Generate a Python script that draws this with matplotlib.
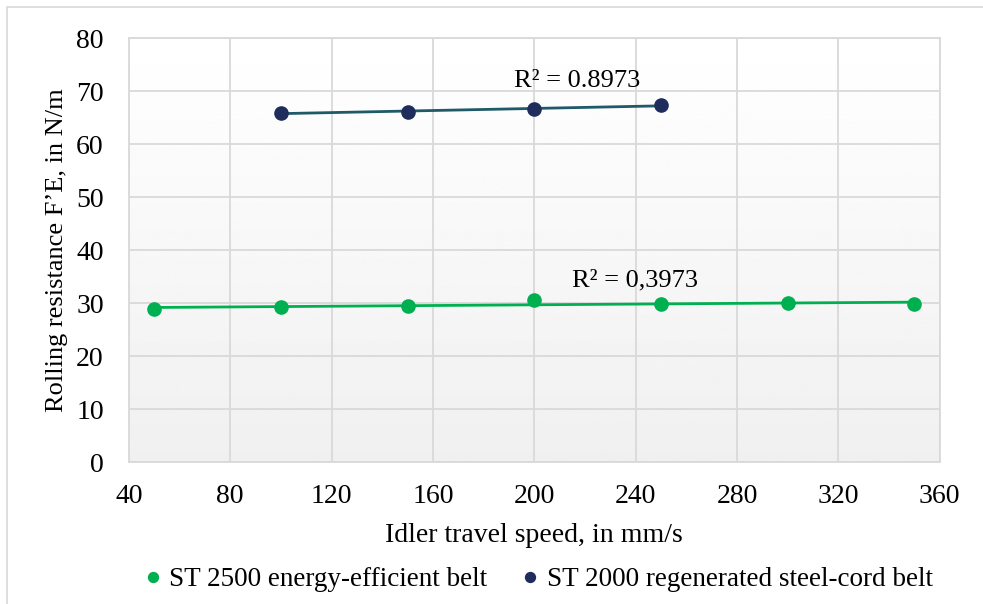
import numpy as np
import matplotlib
matplotlib.use('Agg')
import matplotlib.pyplot as plt
from matplotlib.patches import Rectangle

plt.rcParams['font.family'] = ['Liberation Serif', 'DejaVu Serif']

speed_green = [50, 100, 150, 200, 250, 300, 350]
force_green = [28.8, 29.3, 29.5, 30.5, 29.75, 30.1, 29.75]
label_green = 'ST 2500 energy-efficient belt'
r2_green = 'R² = 0,3973'

speed_navy = [100, 150, 200, 250]
force_navy = [65.9, 66.0, 66.7, 67.3]
label_navy = 'ST 2000 regenerated steel-cord belt'
r2_navy = 'R² = 0.8973'

x_ticks = list(range(40, 361, 40))
y_ticks = list(range(0, 81, 10))

fig = plt.figure(figsize=(9.83, 6.04), dpi=100)
fig.patches.append(Rectangle((7/983, -0.01), 1.0, 1 - 7/604 + 0.01, transform=fig.transFigure,
                             fill=False, edgecolor='#d9d9d9', linewidth=1.2))
ax = fig.add_axes([0.131, 0.235, 0.825, 0.702])

# gradient background, white at top to light grey at bottom
grad = np.linspace(1.0, 0.94, 256).reshape(-1, 1)
ax.imshow(grad, extent=[40, 360, 0, 80], origin='upper', aspect='auto',
          cmap='gray', vmin=0, vmax=1, zorder=0)

ax.set_xlim(40, 360)
ax.set_ylim(0, 80)
ax.set_xticks(x_ticks)
ax.set_yticks(y_ticks)
ax.grid(True, color='#d9d9d9', linewidth=1.3, zorder=1)
ax.set_axisbelow(True)
for s in ax.spines.values():
    s.set_color('#d9d9d9')
    s.set_linewidth(1.3)
ax.tick_params(length=0, labelsize=20)
ax.tick_params(axis='x', pad=16)
ax.tick_params(axis='y', pad=18)

# linear trendlines
for xs, ys, c in [(speed_green, force_green, '#00b050'), (speed_navy, force_navy, '#1e5a68')]:
    k, b = np.polyfit(xs, ys, 1)
    xx = np.array([xs[0], xs[-1]])
    ax.plot(xx, k * xx + b, color=c, linewidth=2, zorder=3)

ax.plot(speed_green, force_green, 'o', color='#00b050', markersize=9.5, zorder=4, label=label_green)
ax.plot(speed_navy, force_navy, 'o', color='#1f2d5c', markersize=9.5, zorder=4, label=label_navy)

ax.text(215, 34.2, r2_green, fontsize=19, ha='left', va='center', zorder=5)
ax.text(192, 71.9, r2_navy, fontsize=19, ha='left', va='center', zorder=5)

ax.set_xlabel('Idler travel speed, in mm/s', fontsize=20, labelpad=10)
ax.set_ylabel('Rolling resistance F’E, in N/m', fontsize=19, labelpad=6)

fig.legend(loc='center', bbox_to_anchor=(0.548, 1 - 580/604), ncol=2, frameon=False,
           fontsize=19.5, handlelength=0.6, handletextpad=0.3, columnspacing=1.3,
           markerscale=0.75)

fig.savefig('out.png', dpi=100)
